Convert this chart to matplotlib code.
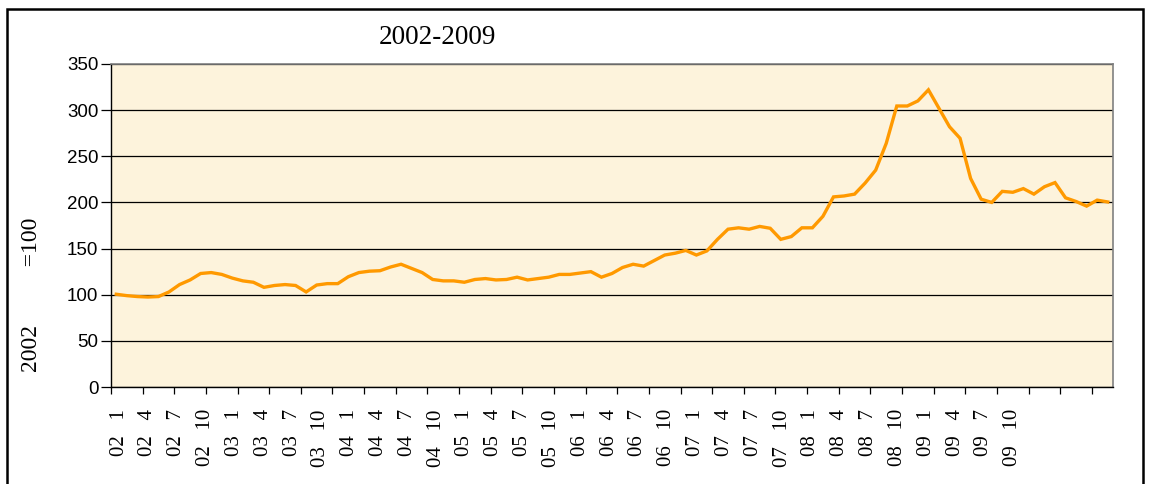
import matplotlib
matplotlib.use("Agg")
import matplotlib.pyplot as plt
from matplotlib.patches import Rectangle
import numpy as np

# monthly index, Jan 2002 .. Nov 2009 (2002 = 100)
index_values = [
    100.5, 99, 98, 97.5, 98, 103, 111, 116, 123, 124, 122, 118,      # 2002
    115, 113.5, 108, 110, 111, 110, 103, 110.5, 112, 112, 119.5, 124,  # 2003
    125.5, 126, 130, 133, 128.5, 124, 116.5, 115, 115, 113.5, 116.5, 117.5,  # 2004
    116, 116.5, 119, 116, 117.5, 119, 122, 122, 123.5, 125, 119, 123,  # 2005
    129.5, 133, 131, 137, 143, 145, 148, 143, 147.5, 160, 171, 172.5,  # 2006
    171, 174, 172, 160, 163, 172.5, 172.5, 185, 206, 207, 209, 221,  # 2007
    235, 264, 304.5, 304.5, 310, 322, 302, 282, 269.5, 226, 203.5, 200,  # 2008
    212, 211, 215, 209, 217, 221.5, 205, 201, 196, 202.5, 200.5,  # 2009
]

label_years = [yy for yy in range(2, 10) for _ in range(4)]
label_months = [1, 4, 7, 10] * 8

title_text = "2002-2009"
ylabel_text = "2002" + " " * 10 + "=100"

W, H = 1149, 484
fig = plt.figure(figsize=(W / 100, H / 100), dpi=100)
fig.patch.set_facecolor("white")

# outer frame
fig.patches.append(Rectangle((7 / W, -0.2), 1136 / W, 1.2 - 9 / H,
                             transform=fig.transFigure, fill=False,
                             edgecolor="black", linewidth=1.8))

ax = fig.add_axes([111 / W, 1 - 387 / H, 1002 / W, 323 / H])
ax.set_facecolor("#FDF3DC")

n = len(index_values)
x = np.arange(n) + 0.5
ax.plot(x, index_values, color="#FF9900", linewidth=2.4, solid_joinstyle="miter")

ax.set_xlim(0, n)
ax.set_ylim(0, 350)
ax.set_yticks(np.arange(0, 351, 50))
ax.yaxis.grid(True, color="black", linewidth=0.9)
ax.set_axisbelow(True)

for side in ["top", "right"]:
    ax.spines[side].set_color("#808080")
    ax.spines[side].set_linewidth(1.2)
for side in ["left", "bottom"]:
    ax.spines[side].set_color("black")
    ax.spines[side].set_linewidth(1.0)

ax.tick_params(axis="y", direction="out", length=7, width=0.9, pad=2,
               labelsize=13.5)
for lab in ax.get_yticklabels():
    lab.set_fontfamily("Liberation Sans")

# quarter ticks at category boundaries
ax.set_xticks(np.arange(0, n, 3))
ax.set_xticklabels([])
ax.tick_params(axis="x", which="major", direction="out", length=5, width=0.9)

# labels spread evenly as in the source
label_pos = 0.76 + 2.7335 * np.arange(len(label_years))
ax.set_xticks(label_pos, minor=True)
ax.set_xticklabels([f"{yy:02d}   {mm}" for yy, mm in zip(label_years, label_months)],
                   minor=True, rotation=90, fontfamily="Liberation Serif", fontsize=15)
ax.tick_params(axis="x", which="minor", length=0, pad=16)

fig.text(437 / W, 1 - 38 / H, title_text, ha="center", va="center",
         fontfamily="Liberation Serif", fontsize=19.5)
fig.text(32 / W, 1 - 295 / H, ylabel_text, ha="center", va="center", rotation=90,
         fontfamily="Liberation Serif", fontsize=17)

fig.savefig("out.png", dpi=100)
